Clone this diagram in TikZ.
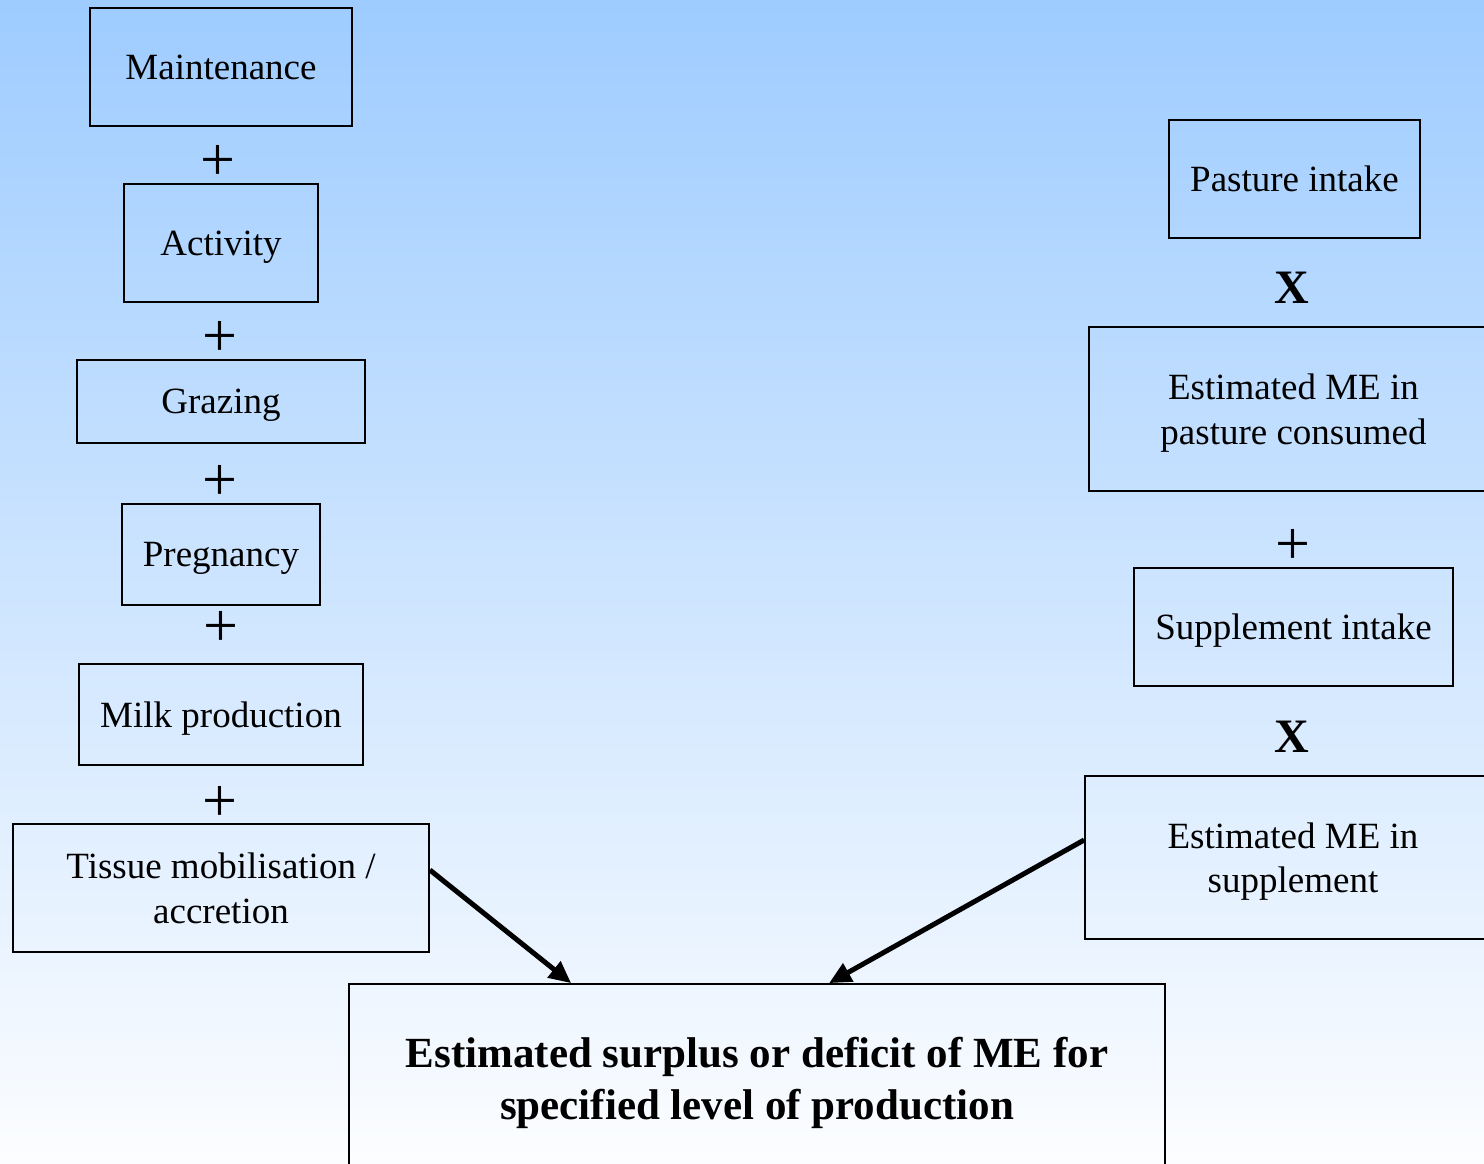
\documentclass[tikz,border=0pt]{standalone}
\usepackage{fontspec}
\setmainfont{Liberation Serif}
\usetikzlibrary{arrows.meta}
\definecolor{bgtop}{RGB}{158,204,255}
\definecolor{bgbot}{RGB}{252,253,255}
\begin{document}
\begin{tikzpicture}[x=1pt,y=-1pt,
  box/.style={draw=black,line width=1.8pt,minimum width=#1,inner sep=0pt,align=center,
    text depth=-3pt,font=\fontsize{37}{44.5}\selectfont},
  plussign/.style={inner sep=0pt,font=\fontsize{62}{62}\selectfont},
  timessign/.style={inner sep=0pt,font=\fontsize{48}{48}\selectfont\bfseries},
  conn/.style={line width=5pt,-{Triangle[length=22pt,width=20pt]}}]
\useasboundingbox (0,0) rectangle (1484,1163);
\shade[top color=bgtop,bottom color=bgbot] (0,0) rectangle (1484,1163);
\begin{scope}
\clip (0,0) rectangle (1484,1163);
% left column
\node[box=262pt,minimum height=118pt] (maint) at (221,67) {Maintenance};
\node[plussign] (p1) at (218,163) {+};
\node[box=194pt,minimum height=118pt] (act) at (221,243) {Activity};
\node[plussign] (p2) at (220,339) {+};
\node[box=288pt,minimum height=83pt] (graz) at (221,401.5) {Grazing};
\node[plussign] (p3) at (220,483) {+};
\node[box=198pt,minimum height=101pt] (preg) at (221,554.5) {Pregnancy};
\node[plussign] (p4) at (221,629) {+};
\node[box=284pt,minimum height=101pt] (milk) at (221,714.5) {Milk production};
\node[plussign] (p5) at (220,804) {+};
\node[box=416pt,minimum height=128pt] (tissue) at (221,888) {Tissue mobilisation /\\accretion};
% right column
\node[box=251pt,minimum height=118pt] (past) at (1294.5,179) {Pasture intake};
\node[timessign] (x1) at (1292,288) {X};
\node[box=409pt,minimum height=164pt] (pme) at (1293.5,409) {Estimated ME in\\pasture consumed};
\node[plussign] (p6) at (1293,547) {+};
\node[box=319pt,minimum height=118pt] (supp) at (1293.5,627) {Supplement intake};
\node[timessign] (x2) at (1292,737) {X};
\node[box=416pt,minimum height=163pt] (sme) at (1293,857.5) {Estimated ME in\\supplement};
% result
\node[box=816pt,minimum height=188pt,font=\fontsize{43}{52}\selectfont\bfseries] (res) at (757,1078)
  {Estimated surplus or deficit of ME for\\specified level of production};
% connectors
\coordinate (lin) at ([yshift=18pt]tissue.east);
\coordinate (rin) at ([yshift=17.5pt]sme.west);
\coordinate (lend) at ([xshift=223pt]res.north west);
\coordinate (rend) at ([xshift=481pt]res.north west);
\draw[conn] (lin) -- (lend);
\draw[conn] (rin) -- (rend);
\end{scope}
\end{tikzpicture}
\end{document}
